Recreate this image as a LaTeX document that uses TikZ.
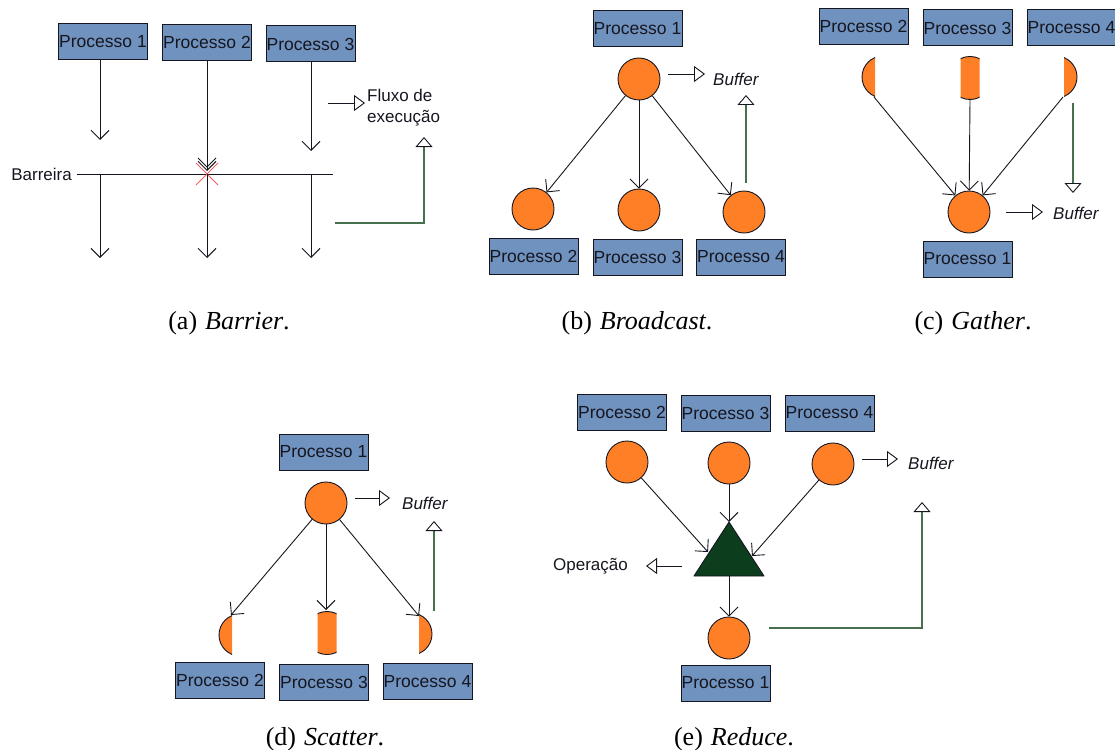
\documentclass[tikz,border=0pt]{standalone}
\usepackage{fontspec}
\setmainfont{Liberation Serif}
\newfontfamily\diagfont{Liberation Sans}
\usetikzlibrary{arrows.meta,calc}

\definecolor{procblue}{RGB}{112,146,190}
\definecolor{ballorange}{RGB}{255,127,39}
\definecolor{flowgreen}{RGB}{72,112,76}
\definecolor{opgreen}{RGB}{12,62,30}
\definecolor{inkdark}{RGB}{22,22,32}
\definecolor{crossred}{RGB}{240,96,96}

\begin{document}
\begin{tikzpicture}[x=1pt,y=-1pt,
  proc/.style={draw=inkdark, line width=1pt, fill=procblue, minimum width=89pt,
    minimum height=36pt, inner sep=0pt, text=inkdark,
    font=\diagfont\fontsize{17.5}{20}\selectfont},
  ball/.style={circle, draw=inkdark, line width=0.9pt, fill=ballorange,
    minimum size=42pt, inner sep=0pt},
  piece/.style={draw=inkdark, line width=0.9pt, fill=ballorange},
  wire/.style={draw=inkdark, line width=0.9pt},
  msg/.style={wire, -{Straight Barb[length=9pt,width=18pt,line width=0.9pt]}},
  legend/.style={wire, -{Triangle[length=11pt,width=16pt,line width=0.9pt,fill=white]}},
  legendg/.style={draw=flowgreen, line width=1.1pt,
    -{Triangle[length=10pt,width=17pt,line width=0.9pt,color=inkdark,fill=white]}},
  lab/.style={inner sep=0pt, text=inkdark, font=\diagfont\fontsize{17}{21}\selectfont},
  buf/.style={lab, anchor=west, font=\diagfont\itshape\fontsize{17}{21}\selectfont},
  subcap/.style={inner sep=0pt, anchor=base, font=\fontsize{26}{30}\selectfont}
]
\useasboundingbox (0,0) rectangle (1115,749);

% ---------------- (a) Barrier ----------------
\node[proc] (a1) at (103,42) {Processo 1};
\node[proc] (a2) at (207,42.5) {Processo 2};
\node[proc] (a3) at (310.5,44) {Processo 3};
\coordinate (a1e) at (100,140);
\coordinate (a2e) at (207,171);
\coordinate (a3e) at (311,151);
\draw[msg] (a1.south -| a1e) -- (a1e);
\draw[msg] (a2.south -| a2e) -- (a2e);
\draw[msg] (a3.south -| a3e) -- (a3e);
\draw[wire] (198,158) -- (207,167) -- (216,158);

\node[lab, anchor=east] (bar) at (72,174) {Barreira};
\coordinate (barR) at (333,174);
\draw[wire] (bar.east) ++(5,0) -- (barR);
\draw[crossred, line width=0.9pt] (196,163) -- (218,185) (218,163) -- (196,185);

\coordinate (a1b) at (100,258);
\coordinate (a2b) at (207,258);
\coordinate (a3b) at (311,258);
\draw[msg] (a1b |- barR) -- (a1b);
\draw[msg] (a2b |- barR) -- (a2b);
\draw[msg] (a3b |- barR) -- (a3b);

\node[lab, anchor=west, align=left, inner xsep=2pt] (fluxo) at (365,108) {Fluxo de\\execução};
\coordinate (fl0) at (328,103);
\draw[legend] (fl0) -- (fl0 -| fluxo.west);
\coordinate (ag0) at (335,223);
\coordinate (ag1) at (424,137);
\draw[legendg] (ag0) -| (ag1);

\node[subcap] (capa) at (229,329) {(a)\hspace{8pt}\textit{Barrier}.};

% ---------------- (b) Broadcast ----------------
\node[proc] (b1) at (637.5,29) {Processo 1};
\node[ball] (bt) at (639,79) {};
\node[ball] (bl) at (533,209) {};
\node[ball] (bm) at (639,210) {};
\node[ball] (br) at (744,212) {};
\node[proc] (b2) at (533.5,256) {Processo 2};
\node[proc] (b3) at (637.5,257) {Processo 3};
\node[proc] (b4) at (741,257) {Processo 4};
\draw[msg] (bt) -- (bl);
\draw[msg] (bt) -- (bm);
\draw[msg] (bt) -- (br);

\node[buf, inner xsep=8pt] (bbuf) at (705,79) {Buffer};
\coordinate (bb0) at (668,74);
\draw[legend] (bb0) -- (bb0 -| bbuf.west);
\coordinate (bg0) at (746,183);
\coordinate (bg1) at (746,95);
\draw[legendg] (bg0) -- (bg1);

\node[subcap] (capb) at (637,329) {(b)\hspace{8pt}\textit{Broadcast}.};

% ---------------- (c) Gather ----------------
\node[proc] (c2) at (863.5,26.5) {Processo 2};
\node[proc] (c3) at (967.5,28) {Processo 3};
\node[proc] (c4) at (1071.5,28) {Processo 4};
\begin{scope}
  \clip (840,50) rectangle (875,105);
  \draw[piece] (883,77) circle[radius=21];
\end{scope}
\begin{scope}
  \clip (960.5,50) rectangle (979.5,105);
  \draw[piece] (970,78) circle[radius=21.5];
\end{scope}
\begin{scope}
  \clip (1064,50) rectangle (1100,105);
  \draw[piece] (1056,77) circle[radius=21];
\end{scope}
\coordinate (c2p) at (874,97);
\coordinate (c3p) at (970,99.5);
\coordinate (c4p) at (1063,97);
\node[ball] (cb) at (969,212) {};
\draw[msg] (c2p) -- (cb);
\draw[msg] (c3p) -- (cb);
\draw[msg] (c4p) -- (cb);
\node[proc] (c1) at (967.5,259) {Processo 1};

\node[buf, inner xsep=10pt] (cbuf) at (1043,213) {Buffer};
\coordinate (cb0) at (1006,212);
\draw[legend] (cb0) -- (cb0 -| cbuf.west);
\coordinate (cg0) at (1073,103);
\coordinate (cg1) at (1073,193);
\draw[legendg] (cg0) -- (cg1);

\node[subcap] (capc) at (973,329) {(c)\hspace{8pt}\textit{Gather}.};

% ---------------- (d) Scatter ----------------
\node[proc] (d1) at (323.5,452) {Processo 1};
\node[ball] (dt) at (326,503) {};
\begin{scope}
  \clip (200,600) rectangle (232,670);
  \draw[piece] (240,635) circle[radius=21];
\end{scope}
\begin{scope}
  \clip (317.5,600) rectangle (336.5,670);
  \draw[piece] (327,633) circle[radius=21.5];
\end{scope}
\begin{scope}
  \clip (419,600) rectangle (450,670);
  \draw[piece] (411,634) circle[radius=21];
\end{scope}
\coordinate (d2p) at (231,615);
\coordinate (d3p) at (326,610);
\coordinate (d4p) at (419,616);
\draw[msg] (dt) -- (d2p);
\draw[msg] (dt) -- (d3p);
\draw[msg] (dt) -- (d4p);
\node[proc] (d2) at (220,680) {Processo 2};
\node[proc] (d3) at (324,682) {Processo 3};
\node[proc] (d4) at (427.5,681.5) {Processo 4};

\node[buf, inner xsep=12pt] (dbuf) at (390,503) {Buffer};
\coordinate (db0) at (355,498);
\draw[legend] (db0) -- (db0 -| dbuf.west);
\coordinate (dg0) at (434,611);
\coordinate (dg1) at (434,521);
\draw[legendg] (dg0) -- (dg1);

\node[subcap] (capd) at (325,745) {(d)\hspace{8pt}\textit{Scatter}.};

% ---------------- (e) Reduce ----------------
\node[proc] (e2) at (622,412) {Processo 2};
\node[proc] (e3) at (725.5,413) {Processo 3};
\node[proc] (e4) at (829.5,413) {Processo 4};
\node[ball] (e2b) at (627,462) {};
\node[ball] (e3b) at (729,463) {};
\node[ball] (e4b) at (833,464) {};

\coordinate (tapex) at (729,522);
\coordinate (tleft) at (694,576);
\coordinate (tright) at (764,576);
\draw[draw=inkdark, line width=0.9pt, fill=opgreen, line join=round]
  (tapex) -- (tright) -- (tleft) -- cycle;
\coordinate (tl) at (708,552);
\coordinate (tr) at (752,556);
\coordinate (tb) at (729,576);
\draw[msg] (e2b) -- (tl);
\draw[msg] (e3b) -- (tapex);
\draw[msg] (e4b) -- (tr);

\node[ball] (e1b) at (729,638) {};
\draw[msg] (tb) -- (e1b);
\node[proc] (e1) at (725.5,683) {Processo 1};

\node[lab, anchor=east] (oper) at (628,566) {Operação};
\coordinate (op0) at (682,566);
\coordinate (op1) at (646,566);
\draw[legend] (op0) -- (op1);

\node[buf, inner xsep=10pt] (ebuf) at (898,463) {Buffer};
\coordinate (eb0) at (862,459);
\draw[legend] (eb0) -- (eb0 -| ebuf.west);
\coordinate (eg0) at (769,628);
\coordinate (eg1) at (922,502);
\draw[legendg] (eg0) -| (eg1);

\node[subcap] (cape) at (734,745) {(e)\hspace{8pt}\textit{Reduce}.};
\end{tikzpicture}
\end{document}
